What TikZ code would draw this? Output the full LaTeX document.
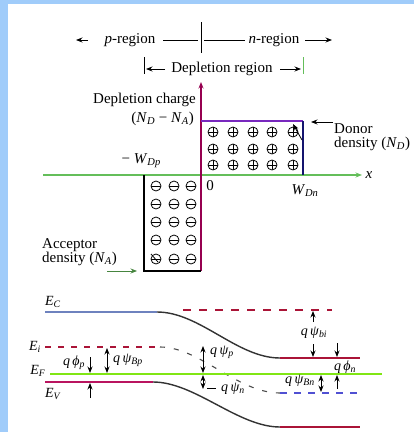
\documentclass[tikz,border=0pt]{standalone}
\usepackage{fontspec}
\setmainfont{Liberation Serif}
\usetikzlibrary{arrows.meta}
\definecolor{bgblue}{RGB}{160,204,250}
\definecolor{limeF}{RGB}{128,230,20}
\definecolor{axgreen}{RGB}{100,190,90}
\definecolor{dred}{RGB}{170,20,55}
\definecolor{magred}{RGB}{185,20,95}
\definecolor{bluegray}{RGB}{110,130,190}
\definecolor{dblue}{RGB}{80,80,210}
\definecolor{vaxis}{RGB}{150,0,80}
\definecolor{purp}{RGB}{120,40,190}
\definecolor{navy2}{RGB}{20,20,110}
\newcommand{\ssub}[1]{\textsubscript{\textit{#1}}}
\tikzset{
  lbl/.style={inner sep=0pt},
  thinarrow/.style={line width=0.8pt},
  bandline/.style={line width=1.6pt},
  curveline/.style={line width=1.4pt, black!80},
  donorion/.style={circle, draw, inner sep=0pt, minimum size=10pt, line width=0.8pt,
    path picture={\draw[line width=0.8pt] (path picture bounding box.west) -- (path picture bounding box.east)
      (path picture bounding box.north) -- (path picture bounding box.south);}},
  acceptorion/.style={circle, draw, inner sep=0pt, minimum size=10pt, line width=0.8pt,
    path picture={\draw[line width=0.9pt] (path picture bounding box.west) -- (path picture bounding box.east);}},
  bandlbl/.style={inner sep=0pt, font=\fontsize{14}{16}\selectfont},
}
\begin{document}
\begin{tikzpicture}[x=1pt, y=-1pt, >={Stealth[length=6.5pt,width=5pt]}, font=\fontsize{15}{17}\selectfont]
\useasboundingbox (0,0) rectangle (414,432);
\fill[bgblue] (0,0) rectangle (414,432);
\fill[white] (8,4) rectangle (414,432);

% ---- top region labels
\node[lbl] (preg) at (130,40) {\textit{p}-region};
\node[lbl] (nreg) at (274,40) {\textit{n}-region};
\coordinate (pa1) at (88,40); \coordinate (pa2) at (76,40);
\draw[thinarrow,->] (pa1) -- (pa2);
\coordinate (pl1) at (163,40); \coordinate (pl2) at (198,40);
\draw[thinarrow] (pl1) -- (pl2);
\coordinate (nl1) at (204,40); \coordinate (nl2) at (245,40);
\draw[thinarrow] (nl1) -- (nl2);
\coordinate (na1) at (305,40); \coordinate (na2) at (332,40);
\draw[thinarrow,->] (na1) -- (na2);
\coordinate (mt) at (201,22); \coordinate (mb) at (201,53);
\draw[thinarrow] (mt) -- (mb);

\node[lbl] (dreg) at (222,69) {Depletion region};
\coordinate (bl1) at (144,57); \coordinate (bl2) at (144,74);
\coordinate (br1) at (303,57); \coordinate (br2) at (303,74);
\draw[thinarrow] (bl1) -- (bl2);
\draw[thinarrow, axgreen] (br1) -- (br2);
\coordinate (da1) at (165,69); \coordinate (da2) at (146,69);
\coordinate (db1) at (280,69); \coordinate (db2) at (301,69);
\draw[thinarrow,->] (da1) -- (da2);
\draw[thinarrow,->] (db1) -- (db2);

% ---- charge diagram
\coordinate (xa1) at (43,175); \coordinate (xa2) at (362,175);
\draw[line width=1.3pt, axgreen, ->] (xa1) -- (xa2);
\node[lbl] (xl) at (369,175) {\textit{x}};

\coordinate (o) at (201,175);
\coordinate (va1) at (201,271); \coordinate (va2) at (201,82);
\draw[line width=1.4pt, vaxis, ->] (va1) -- (va2);

\coordinate (dtl) at (201,121); \coordinate (dtr) at (303,121); \coordinate (dbr) at (303,175);
\draw[line width=1.8pt, purp] (dtl) -- (dtr);
\draw[line width=1.8pt, navy2] (dtr) -- (dbr);

\coordinate (atl) at (144,175); \coordinate (abl) at (144,271); \coordinate (abr) at (201,271);
\draw[line width=1.8pt] (atl) -- (abl) -- (abr);

\foreach \cx [count=\i] in {213,233,253,272,293}
  \foreach \cy [count=\j] in {132,149,165}
    \node[donorion] (d\i\j) at (\cx,\cy) {};
\foreach \cx [count=\i] in {156,174,191}
  \foreach \cy [count=\j] in {186,204,222,240,259}
    \node[acceptorion] (a\i\j) at (\cx,\cy) {};

\draw[thinarrow,->] (302,140) -- (293,124);
\draw[thinarrow] (158,262) -- (151,254);

\node[lbl, anchor=east] (dc) at (196,100) {Depletion charge};
\node[lbl, anchor=east] (ndna) at (194,119) {(\textit{N}\ssub{D} − \textit{N}\ssub{A})};
\node[lbl, anchor=east] (wdp) at (161,161) {− \textit{W}\ssub{Dp}};
\node[lbl] (zero) at (210,186) {0};
\node[lbl] (wdn) at (305,191) {\textit{W}\ssub{Dn}};

\node[lbl, anchor=west, align=left, font=\fontsize{15}{13.5}\selectfont] (donor) at (334,137) {Donor\\density (\textit{N}\ssub{D})};
\coordinate (dn1) at (333,122); \coordinate (dn2) at (311,122);
\draw[thinarrow,->] (dn1) -- (dn2);

\node[lbl, anchor=west, align=left, font=\fontsize{15}{13.5}\selectfont] (acc) at (42,252) {Acceptor\\density (\textit{N}\ssub{A})};
\coordinate (ac1) at (107,271); \coordinate (ac2) at (137,271);
\draw[thinarrow, axgreen!70!black, ->] (ac1) -- (ac2);

% ---- band diagram
\draw[bandline, bluegray] (45,312) -- (157,312);
\draw[curveline] (157,312) .. controls (200,312) and (237,358) .. (280,358);
\draw[bandline, dred] (280,358) -- (360,358);
\draw[bandline, dred, dash pattern=on 8pt off 8pt] (183,310) -- (332,310);

\draw[line width=1.3pt, dred, dash pattern=on 6pt off 7pt] (45,347) -- (160,347);
\draw[line width=1.1pt, black!70, dash pattern=on 5pt off 9pt] (160,347) .. controls (200,347) and (237,393) .. (280,393);
\draw[line width=1.3pt, dblue, dash pattern=on 7pt off 7pt] (280,393) -- (362,393);

\draw[bandline, limeF] (50,374) -- (382,374);

\draw[bandline, magred] (45,382) -- (153,382);
\draw[curveline] (153,382) .. controls (195,382) and (238,427) .. (280,427);
\draw[bandline, dred] (280,427) -- (360,427);

\node[bandlbl] (ec) at (53,302) {\textit{E}\ssub{C}};
\node[bandlbl] (ei) at (35,347) {\textit{E}\ssub{i}};
\node[bandlbl] (ef) at (38,371) {\textit{E}\ssub{F}};
\node[bandlbl] (ev) at (53,394) {\textit{E}\ssub{V}};

\node[bandlbl] (qphip) at (74,363) {\textit{q}\,\textit{ϕ}\ssub{p}};
\draw[thinarrow,->] (90,357) -- (90,373);
\draw[thinarrow,->] (90,398) -- (90,383);

\node[bandlbl] (qpsibp) at (128,360) {\textit{q}\,\textit{ψ}\ssub{Bp}};
\draw[thinarrow,<->] (107,348) -- (107,373);

\node[bandlbl] (qpsip) at (222,352) {\textit{q}\,\textit{ψ}\ssub{p}};
\draw[thinarrow,<->] (203,346) -- (203,373);
\draw[thinarrow,<->] (203,375) -- (203,389);
\node[bandlbl] (qpsin) at (233,389) {\textit{q}\,\textit{ψ}\ssub{n}};
\draw[thinarrow] (207,388) -- (216,388);

\node[bandlbl] (qpsibi) at (314,333) {\textit{q}\,\textit{ψ}\ssub{bi}};
\draw[thinarrow,->] (313,322) -- (313,311);
\draw[thinarrow,->] (313,344) -- (313,357);

\node[bandlbl] (qphin) at (345,367) {\textit{q}\,\textit{ϕ}\ssub{n}};
\draw[thinarrow,->] (337,343) -- (337,357);
\draw[thinarrow,->] (337,389) -- (337,375);

\node[bandlbl] (qpsibn) at (300,381) {\textit{q}\,\textit{ψ}\ssub{Bn}};
\draw[thinarrow,<->] (321,375) -- (321,392);
\end{tikzpicture}
\end{document}
